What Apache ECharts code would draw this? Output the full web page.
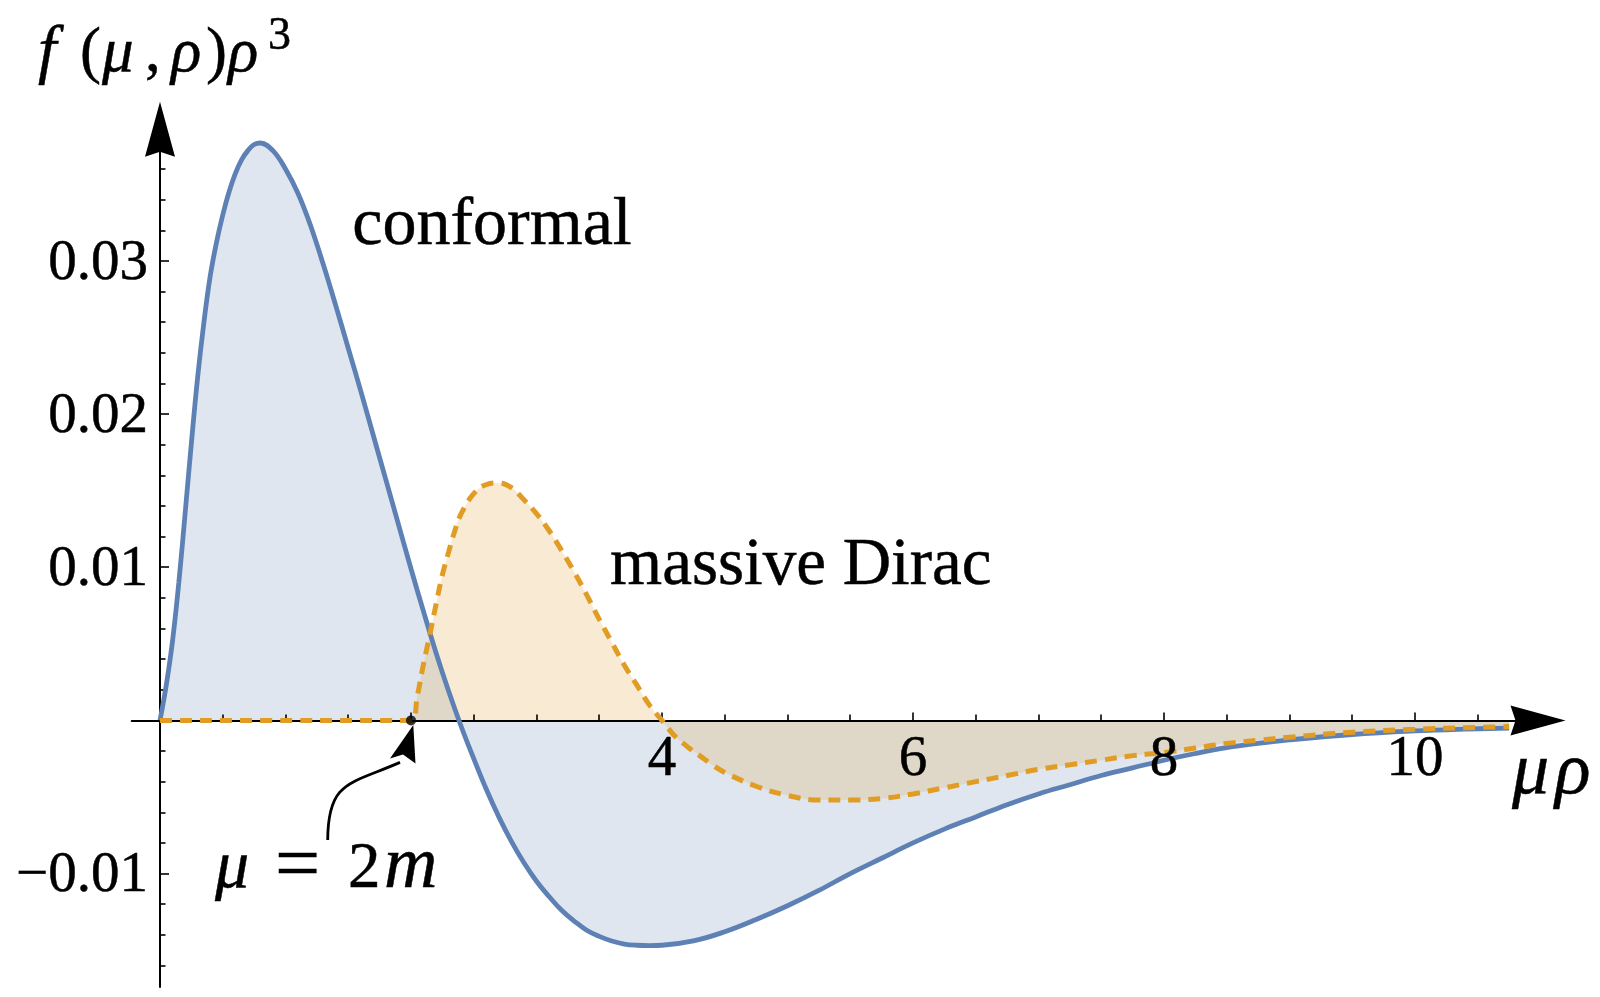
<!DOCTYPE html>
<html><head><meta charset="utf-8">
<script src="https://cdn.jsdelivr.net/npm/echarts@6/dist/echarts.min.js"></script>
<style>html,body{margin:0;padding:0;background:#fff}#c{width:1600px;height:997px}</style>
</head><body><div id="c"></div><script>
// ---- data ----
const conformalX = [0, 0.05, 0.1, 0.15, 0.2, 0.25, 0.3, 0.35, 0.4, 0.45, 0.5, 0.55, 0.6, 0.65, 0.7, 0.75, 0.8, 0.9, 1.0, 1.1, 1.2, 1.3, 1.4, 1.5, 1.6, 1.7, 1.8, 1.9, 2.0, 2.1, 2.2, 2.3, 2.4, 2.5, 2.6, 2.7, 2.8, 2.9, 3.0, 3.1, 3.2, 3.3, 3.4, 3.5, 3.6, 3.7, 3.8, 3.9, 4.0, 4.25, 4.5, 4.75, 5.0, 5.25, 5.5, 5.75, 6.0, 6.25, 6.5, 6.75, 7.0, 7.25, 7.5, 7.75, 8.0, 8.25, 8.5, 8.75, 9.0, 9.5, 10.0, 10.4, 10.75];
const conformalY = [0, 0.0023, 0.0052, 0.0090, 0.0135, 0.0181, 0.0224, 0.0260, 0.0290, 0.0312, 0.0330, 0.0345, 0.0357, 0.0366, 0.0372, 0.0376, 0.0377, 0.0372, 0.0360, 0.0344, 0.0323, 0.0298, 0.0271, 0.0243, 0.0215, 0.0186, 0.0157, 0.0128, 0.0099, 0.0071, 0.0044, 0.0019, -0.0004, -0.0025, -0.0045, -0.0063, -0.0079, -0.0093, -0.0105, -0.0115, -0.0124, -0.0131, -0.0137, -0.0141, -0.0144, -0.0146, -0.01468, -0.0147, -0.01468, -0.0144, -0.0138, -0.0130, -0.0121, -0.0111, -0.0100, -0.0090, -0.0080, -0.0071, -0.0063, -0.0055, -0.0048, -0.0042, -0.0036, -0.0031, -0.0026, -0.00216, -0.00178, -0.00150, -0.00127, -0.00092, -0.00069, -0.00057, -0.00050];
const diracX = [0, 1, 2, 2.05, 2.1, 2.15, 2.2, 2.25, 2.3, 2.35, 2.4, 2.5, 2.6, 2.7, 2.8, 2.9, 3.0, 3.1, 3.2, 3.3, 3.4, 3.5, 3.6, 3.7, 3.8, 3.9, 4.0, 4.1, 4.2, 4.3, 4.4, 4.5, 4.75, 5.0, 5.25, 5.5, 5.75, 6.0, 6.25, 6.5, 6.75, 7.0, 7.25, 7.5, 7.75, 8.0, 8.25, 8.5, 8.75, 9.0, 9.5, 10.0, 10.4, 10.75];
const diracY = [0, 0, 0, 0.0016, 0.0037, 0.0056, 0.0076, 0.0095, 0.0110, 0.0124, 0.0135, 0.0148, 0.0154, 0.0155, 0.0152, 0.0144, 0.0135, 0.0124, 0.0111, 0.0097, 0.0082, 0.0066, 0.0051, 0.0036, 0.0023, 0.0010, 0.0000, -0.0010, -0.0017, -0.0023, -0.0029, -0.0034, -0.0043, -0.0049, -0.0052, -0.0052, -0.0051, -0.0048, -0.0044, -0.0040, -0.0036, -0.0032, -0.0029, -0.0026, -0.0023, -0.0021, -0.0018, -0.0015, -0.0013, -0.0011, -0.00077, -0.00058, -0.00048, -0.00040];
const thresholdPoint = [2, 0];
const xTickLabels = [4, 6, 8, 10];
const xMajorTicks = [2, 4, 6, 8, 10];
const xMinorTicks = [0.5, 1, 1.5, 2.5, 3, 3.5, 4.5, 5, 5.5, 6.5, 7, 7.5, 8.5, 9, 9.5, 10.5];
const yTickLabels = [-0.01, 0.01, 0.02, 0.03];
const yMinorTicks = [-0.016, -0.014, -0.012, -0.008, -0.006, -0.004, -0.002, 0.002, 0.004, 0.006, 0.008, 0.012, 0.014, 0.016, 0.018, 0.022, 0.024, 0.026, 0.028, 0.032, 0.034, 0.036];
const seriesNames = ['conformal', 'massive Dirac'];

// ---- build ----
const BLUE = '#5E81B5', ORANGE = '#E19C24';
const FONT = 'Liberation Serif';
const pairs = (xs, ys) => xs.map((x, i) => [x, ys[i]]);
const conformalData = pairs(conformalX, conformalY);
const diracData = pairs(diracX, diracY);
const ARROW = 'path://M15,0 L30,55 L15,50 L0,55 Z';
const XMIN = -0.225, XMAX = 10.98, YMIN = -0.0174, YMAX = 0.0386;

const chart = echarts.init(document.getElementById('c'), null, {renderer: 'canvas'});
const hidden = {show: false};
const option = {
  animation: false,
  backgroundColor: '#fff',
  grid: {left: 131.76, right: 1600 - (160 + XMAX * 125.5), top: 129.2, bottom: 10.1, containLabel: false, outerBoundsMode: 'none'},
  xAxis: [{
    type: 'value', min: XMIN, max: XMAX, position: 'bottom', z: 2,
    axisLine: {onZero: true, symbol: ['none', ARROW], symbolSize: [30, 55], lineStyle: {color: '#000', width: 2}},
    axisTick: {customValues: xMajorTicks, inside: true, length: 8, lineStyle: {color: '#000', width: 1.6}},
    axisLabel: hidden, splitLine: hidden
  }, {
    type: 'value', min: XMIN, max: XMAX, position: 'top', z: 2,
    axisLine: {show: true, onZero: true, onZeroAxisIndex: 0, lineStyle: {color: 'rgba(0,0,0,0)', width: 0}},
    axisTick: {customValues: xMinorTicks, inside: false, length: 6, lineStyle: {color: '#000', width: 1.6}},
    axisLabel: hidden, splitLine: hidden
  }],
  yAxis: [{
    type: 'value', min: YMIN, max: YMAX, position: 'left', z: 2,
    axisLine: {onZero: true, symbol: ['none', ARROW], symbolSize: [30, 55], lineStyle: {color: '#000', width: 2}},
    axisTick: {customValues: yTickLabels, inside: true, length: 9, lineStyle: {color: '#000', width: 1.6}},
    axisLabel: hidden, splitLine: hidden
  }, {
    type: 'value', min: YMIN, max: YMAX, position: 'right', z: 2,
    axisLine: {show: true, onZero: true, onZeroAxisIndex: 0, lineStyle: {color: 'rgba(0,0,0,0)', width: 0}},
    axisTick: {customValues: yMinorTicks, inside: false, length: 5.5, lineStyle: {color: '#000', width: 1.6}},
    axisLabel: hidden, splitLine: hidden
  }],
  series: [
    {name: seriesNames[0] + ' area', type: 'line', data: conformalData, smooth: 0.4, showSymbol: false, silent: true, z: 1,
      lineStyle: {width: 0, opacity: 0}, areaStyle: {color: BLUE, opacity: 0.2}},
    {name: seriesNames[1] + ' area', type: 'line', data: diracData, smooth: 0.4, showSymbol: false, silent: true, z: 1,
      lineStyle: {width: 0, opacity: 0}, areaStyle: {color: ORANGE, opacity: 0.2}},
    {name: seriesNames[0], type: 'line', data: conformalData, smooth: 0.4, showSymbol: false, silent: true, z: 3,
      lineStyle: {color: BLUE, width: 4.8}},
    {name: seriesNames[1], type: 'line', data: diracData, smooth: 0.4, showSymbol: false, silent: true, z: 4,
      lineStyle: {color: ORANGE, width: 5, type: [12, 8], cap: 'butt'}},
    {name: 'threshold', type: 'scatter', data: [thresholdPoint], symbolSize: 10, itemStyle: {color: '#000'}, silent: true, z: 6}
  ]
};
chart.setOption(option);

// ---- texts and annotation (positioned from data coordinates) ----
const px = (x, y) => chart.convertToPixel({xAxisIndex: 0, yAxisIndex: 0}, [x, y]);
function txt(x, baseline, text, size, italic, align) {
  return {type: 'text', x: x, y: baseline - 0.28 * size, z: 10,
    style: {text: text, fontSize: size, fontFamily: FONT, fontStyle: italic ? 'italic' : 'normal', fill: '#000',
      stroke: '#000', lineWidth: 0.5, align: align || 'left', verticalAlign: 'middle'}};
}
const LABEL = 57;
const graphics = [];
yTickLabels.forEach(v => {
  const p = px(0, v);
  graphics.push({type: 'text', x: p[0] - 12, y: p[1] + 2.8, z: 10,
    style: {text: (v < 0 ? '\u2212' : '') + Math.abs(v).toFixed(2), fontSize: LABEL, fontFamily: FONT, fill: '#000',
      stroke: '#000', lineWidth: 0.5, align: 'right', verticalAlign: 'middle'}});
});
xTickLabels.forEach(v => {
  const p = px(v, 0);
  graphics.push(txt(p[0], p[1] + 55.5, String(v), LABEL, false, 'center'));
});
const pc = px(1.54, 0.03124);
const pd = px(3.586, 0.00897);
const p2 = px(thresholdPoint[0], thresholdPoint[1]);
const by = p2[1] + 168;
graphics.push(
  txt(pc[0] - 1, pc[1] + 3, seriesNames[0], 68, false),
  txt(pd[0], pd[1] + 2, seriesNames[1], 67, false),
  // mu = 2m
  txt(p2[0] - 196, by, '\u03bc', 68, true),
  txt(p2[0] - 136, by + 3, '=', 80, false),
  txt(p2[0] - 63, by, '2', 65, false),
  txt(p2[0] - 27, by, 'm', 74, true),
  {type: 'bezierCurve', z: 9, shape: {x1: p2[0] - 83.3, y1: p2[1] + 119.6, cpx1: p2[0] - 83, cpy1: p2[1] + 60,
      cpx2: p2[0] - 61, cpy2: p2[1] + 64, x2: p2[0] - 11, y2: p2[1] + 42},
    style: {stroke: '#000', lineWidth: 2.8, fill: null}},
  {type: 'polygon', z: 9, shape: {points: [[p2[0] + 2.3, p2[1] + 4.6], [p2[0] + 4.5, p2[1] + 43], [p2[0] - 8, p2[1] + 34], [p2[0] - 21, p2[1] + 38]]},
    style: {fill: '#000'}},
  // y axis title f(mu, rho) rho^3
  txt(38, 72, 'f', 66, true),
  txt(80, 72, '(', 63, false),
  txt(102, 72, '\u03bc', 63, true),
  txt(145, 72, ',', 63, false),
  txt(171, 72, '\u03c1', 63, true),
  txt(206, 72, ')', 63, false),
  txt(228, 72, '\u03c1', 63, true),
  txt(268, 50, '3', 46, false),
  // x axis title mu rho
  txt(1512, 794, '\u03bc', 74, true),
  txt(1555, 794, '\u03c1', 74, true)
);
chart.setOption({graphic: graphics});
</script></body></html>
